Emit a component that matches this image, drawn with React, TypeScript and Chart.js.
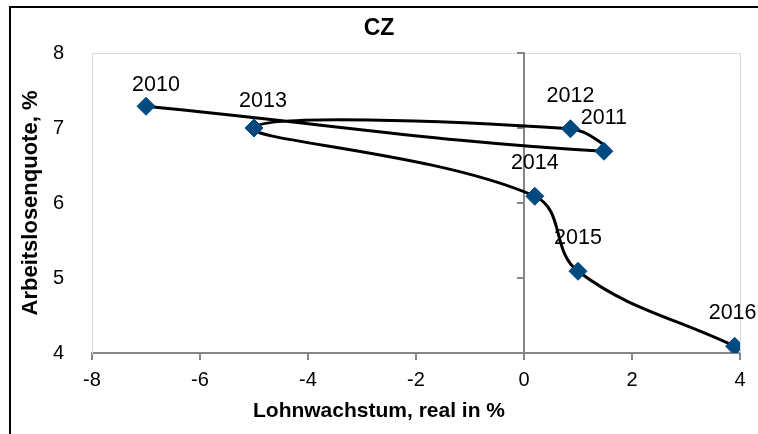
import React, { useEffect, useRef } from "react";
import { Chart, registerables } from "chart.js";

Chart.register(...registerables);

// ---- data ----
const years = ["2010", "2011", "2012", "2013", "2014", "2015", "2016"];
const wageGrowth = [-7.0, 1.48, 0.86, -5.0, 0.2, 1.0, 3.9];
const unemployment = [7.29, 6.69, 6.99, 7.0, 6.09, 5.09, 4.09];
const xTicks = [-8, -6, -4, -2, 0, 2, 4];
const yTicks = [4, 5, 6, 7, 8];
const chartTitle = "CZ";
const xTitle = "Lohnwachstum, real in %";
const yTitle = "Arbeitslosenquote, %";

const FONT = '"Liberation Sans", Arial, sans-serif';

// label nudges (px) for the data labels, as placed in the original
const LABEL_NUDGE: Record<string, [number, number]> = {
  "2010": [10, -21],
  "2013": [9, -27],
  "2016": [-2, -33],
};

const frame = {
  id: "frame",
  beforeDatasetsDraw(chart: any) {
    const { ctx, chartArea } = chart;
    const xs = chart.scales.x;
    const ys = chart.scales.y;
    ctx.save();
    // light plot-area border (top, right)
    ctx.strokeStyle = "#d9d9d9";
    ctx.lineWidth = 1;
    ctx.beginPath();
    ctx.moveTo(chartArea.left, chartArea.top + 0.5);
    ctx.lineTo(chartArea.right + 0.5, chartArea.top + 0.5);
    ctx.lineTo(chartArea.right + 0.5, chartArea.bottom);
    ctx.stroke();
    // vertical axis crossing at x = 0
    const x0 = Math.round(xs.getPixelForValue(0));
    ctx.strokeStyle = "#868686";
    ctx.lineWidth = 2;
    ctx.beginPath();
    ctx.moveTo(x0, chartArea.top - 1);
    ctx.lineTo(x0, chartArea.bottom);
    yTicks.forEach((v) => {
      const y = Math.round(ys.getPixelForValue(v));
      if (v === ys.min) return;
      ctx.moveTo(x0 - 7, y);
      ctx.lineTo(x0, y);
    });
    ctx.stroke();
    ctx.restore();
  },
  afterDraw(chart: any) {
    const { ctx } = chart;
    ctx.save();
    ctx.strokeStyle = "#000";
    ctx.lineWidth = 2;
    ctx.strokeRect(10, 7, 2000, 2000);
    ctx.restore();
  },
};

const dataLabels = {
  id: "dataLabels",
  afterDatasetsDraw(chart: any) {
    const { ctx } = chart;
    const meta = chart.getDatasetMeta(0);
    ctx.save();
    ctx.font = `21.5px ${FONT}`;
    ctx.fillStyle = "#000";
    ctx.textAlign = "center";
    ctx.textBaseline = "middle";
    meta.data.forEach((pt: any, i: number) => {
      const lbl = years[i];
      const [dx, dy] = LABEL_NUDGE[lbl] || [0, -33];
      ctx.fillText(lbl, pt.x + dx, pt.y + dy);
    });
    ctx.restore();
  },
};

export default function App() {
  const ref = useRef<HTMLCanvasElement | null>(null);

  useEffect(() => {
    if (!ref.current) return;
    const points = wageGrowth.map((x, i) => ({ x, y: unemployment[i] }));
    const chart = new Chart(ref.current, {
      type: "scatter",
      data: {
        datasets: [
          {
            label: chartTitle,
            data: points,
            showLine: true,
            borderColor: "#000000",
            borderWidth: 3,
            tension: 0.4,
            pointStyle: "rectRot",
            pointRadius: 9,
            pointHoverRadius: 9,
            pointBackgroundColor: "#004a7f",
            pointBorderColor: "#004a7f",
            pointBorderWidth: 1,
          },
        ],
      },
      options: {
        responsive: false,
        animation: false,
        events: [],
        layout: { padding: 0 },
        plugins: {
          legend: { display: false },
          tooltip: { enabled: false },
          title: {
            display: true,
            text: chartTitle,
            color: "#000",
            font: { family: FONT, size: 23, weight: "bold" },
            padding: { top: 15, bottom: 10.4 },
          },
          subtitle: {
            display: true,
            position: "bottom",
            text: xTitle,
            color: "#000",
            font: { family: FONT, size: 21, weight: "bold" },
            padding: { top: 3.5, bottom: 10.3 },
          },
        },
        scales: {
          x: {
            type: "linear",
            min: xTicks[0],
            max: xTicks[xTicks.length - 1],
            afterBuildTicks: (s: any) => {
              s.ticks = xTicks.map((v) => ({ value: v }));
            },
            afterFit: (s: any) => {
              s.height = 42;
            },
            ticks: {
              color: "#000",
              font: { family: FONT, size: 20 },
              padding: 8,
              maxRotation: 0,
              autoSkip: false,
            },
            grid: {
              display: true,
              drawOnChartArea: false,
              drawTicks: true,
              tickLength: 7,
              color: "#868686",
              lineWidth: 2,
            },
            border: { display: true, color: "#868686", width: 2 },
          },
          y: {
            type: "linear",
            min: yTicks[0],
            max: yTicks[yTicks.length - 1],
            afterBuildTicks: (s: any) => {
              s.ticks = yTicks.map((v) => ({ value: v }));
            },
            afterFit: (s: any) => {
              s.width = 92;
            },
            ticks: {
              color: "#000",
              font: { family: FONT, size: 20 },
              padding: 20,
              autoSkip: false,
            },
            grid: { display: false },
            border: { display: true, color: "#d9d9d9", width: 1 },
            title: {
              display: true,
              text: yTitle,
              color: "#000",
              font: { family: FONT, size: 22, weight: "bold" },
              padding: { top: 18, bottom: 0 },
            },
          },
          yRight: {
            type: "linear",
            position: "right",
            display: true,
            min: yTicks[0],
            max: yTicks[yTicks.length - 1],
            afterFit: (s: any) => {
              s.width = 18;
            },
            ticks: { display: false },
            grid: { display: false },
            border: { display: false },
          },
        },
      },
      plugins: [frame, dataLabels],
    });
    return () => chart.destroy();
  }, []);

  return (
    <div
      style={{
        position: "fixed",
        left: 0,
        top: 0,
        width: 758,
        height: 434,
        background: "#fff",
        overflow: "hidden",
      }}
    >
      <canvas ref={ref} width={758} height={434} style={{ display: "block" }} />
    </div>
  );
}
